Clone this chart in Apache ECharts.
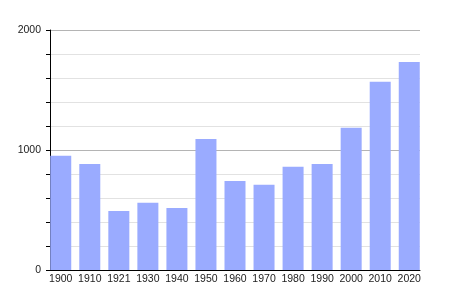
<!DOCTYPE html>
<html><head><meta charset="utf-8">
<script src="https://cdn.jsdelivr.net/npm/echarts@6/dist/echarts.min.js"></script>
<style>html,body{margin:0;padding:0;background:#fff}#c{width:450px;height:300px}</style>
</head><body><div id="c"></div>
<script>
const years = ['1900','1910','1921','1930','1940','1950','1960','1970','1980','1990','2000','2010','2020'];
const population = [952, 883, 492, 561, 517, 1092, 742, 711, 861, 883, 1186, 1569, 1733];
const yLabels = [0, 1000, 2000];

const chart = echarts.init(document.getElementById('c'), null, {renderer: 'canvas'});
const idx = years.map((_, i) => i);
chart.setOption({
  animation: false,
  grid: {left: 50, right: 30, top: 30, bottom: 30},
  xAxis: {
    type: 'value', min: -0.37, max: years.length - 1 + 0.37,
    axisLine: {show: true, onZero: false, lineStyle: {color: '#000', width: 1}},
    axisTick: {show: false},
    splitLine: {show: false},
    axisLabel: {
      customValues: idx, margin: 4, color: '#222', fontSize: 10.5,
      fontFamily: 'Liberation Sans, Arial, sans-serif',
      formatter: v => years[Math.round(v)]
    }
  },
  yAxis: {
    type: 'value', min: 0, max: 2000, interval: 200,
    axisLine: {show: true, onZero: false, lineStyle: {color: '#000', width: 1}},
    axisTick: {show: true, length: 4, lineStyle: {color: '#000'}},
    splitLine: {show: true, lineStyle: {color: ['#b4b4b4', '#e2e2e2', '#e2e2e2', '#e2e2e2', '#e2e2e2'], width: 1}},
    axisLabel: {
      margin: 9, color: '#222', fontSize: 10.5,
      fontFamily: 'Liberation Sans, Arial, sans-serif',
      formatter: v => yLabels.includes(v) ? String(v) : ''
    }
  },
  series: [{
    type: 'bar', barWidth: 21,
    itemStyle: {color: '#9aabff'},
    data: population.map((v, i) => [i, v])
  }]
});
</script></body></html>
